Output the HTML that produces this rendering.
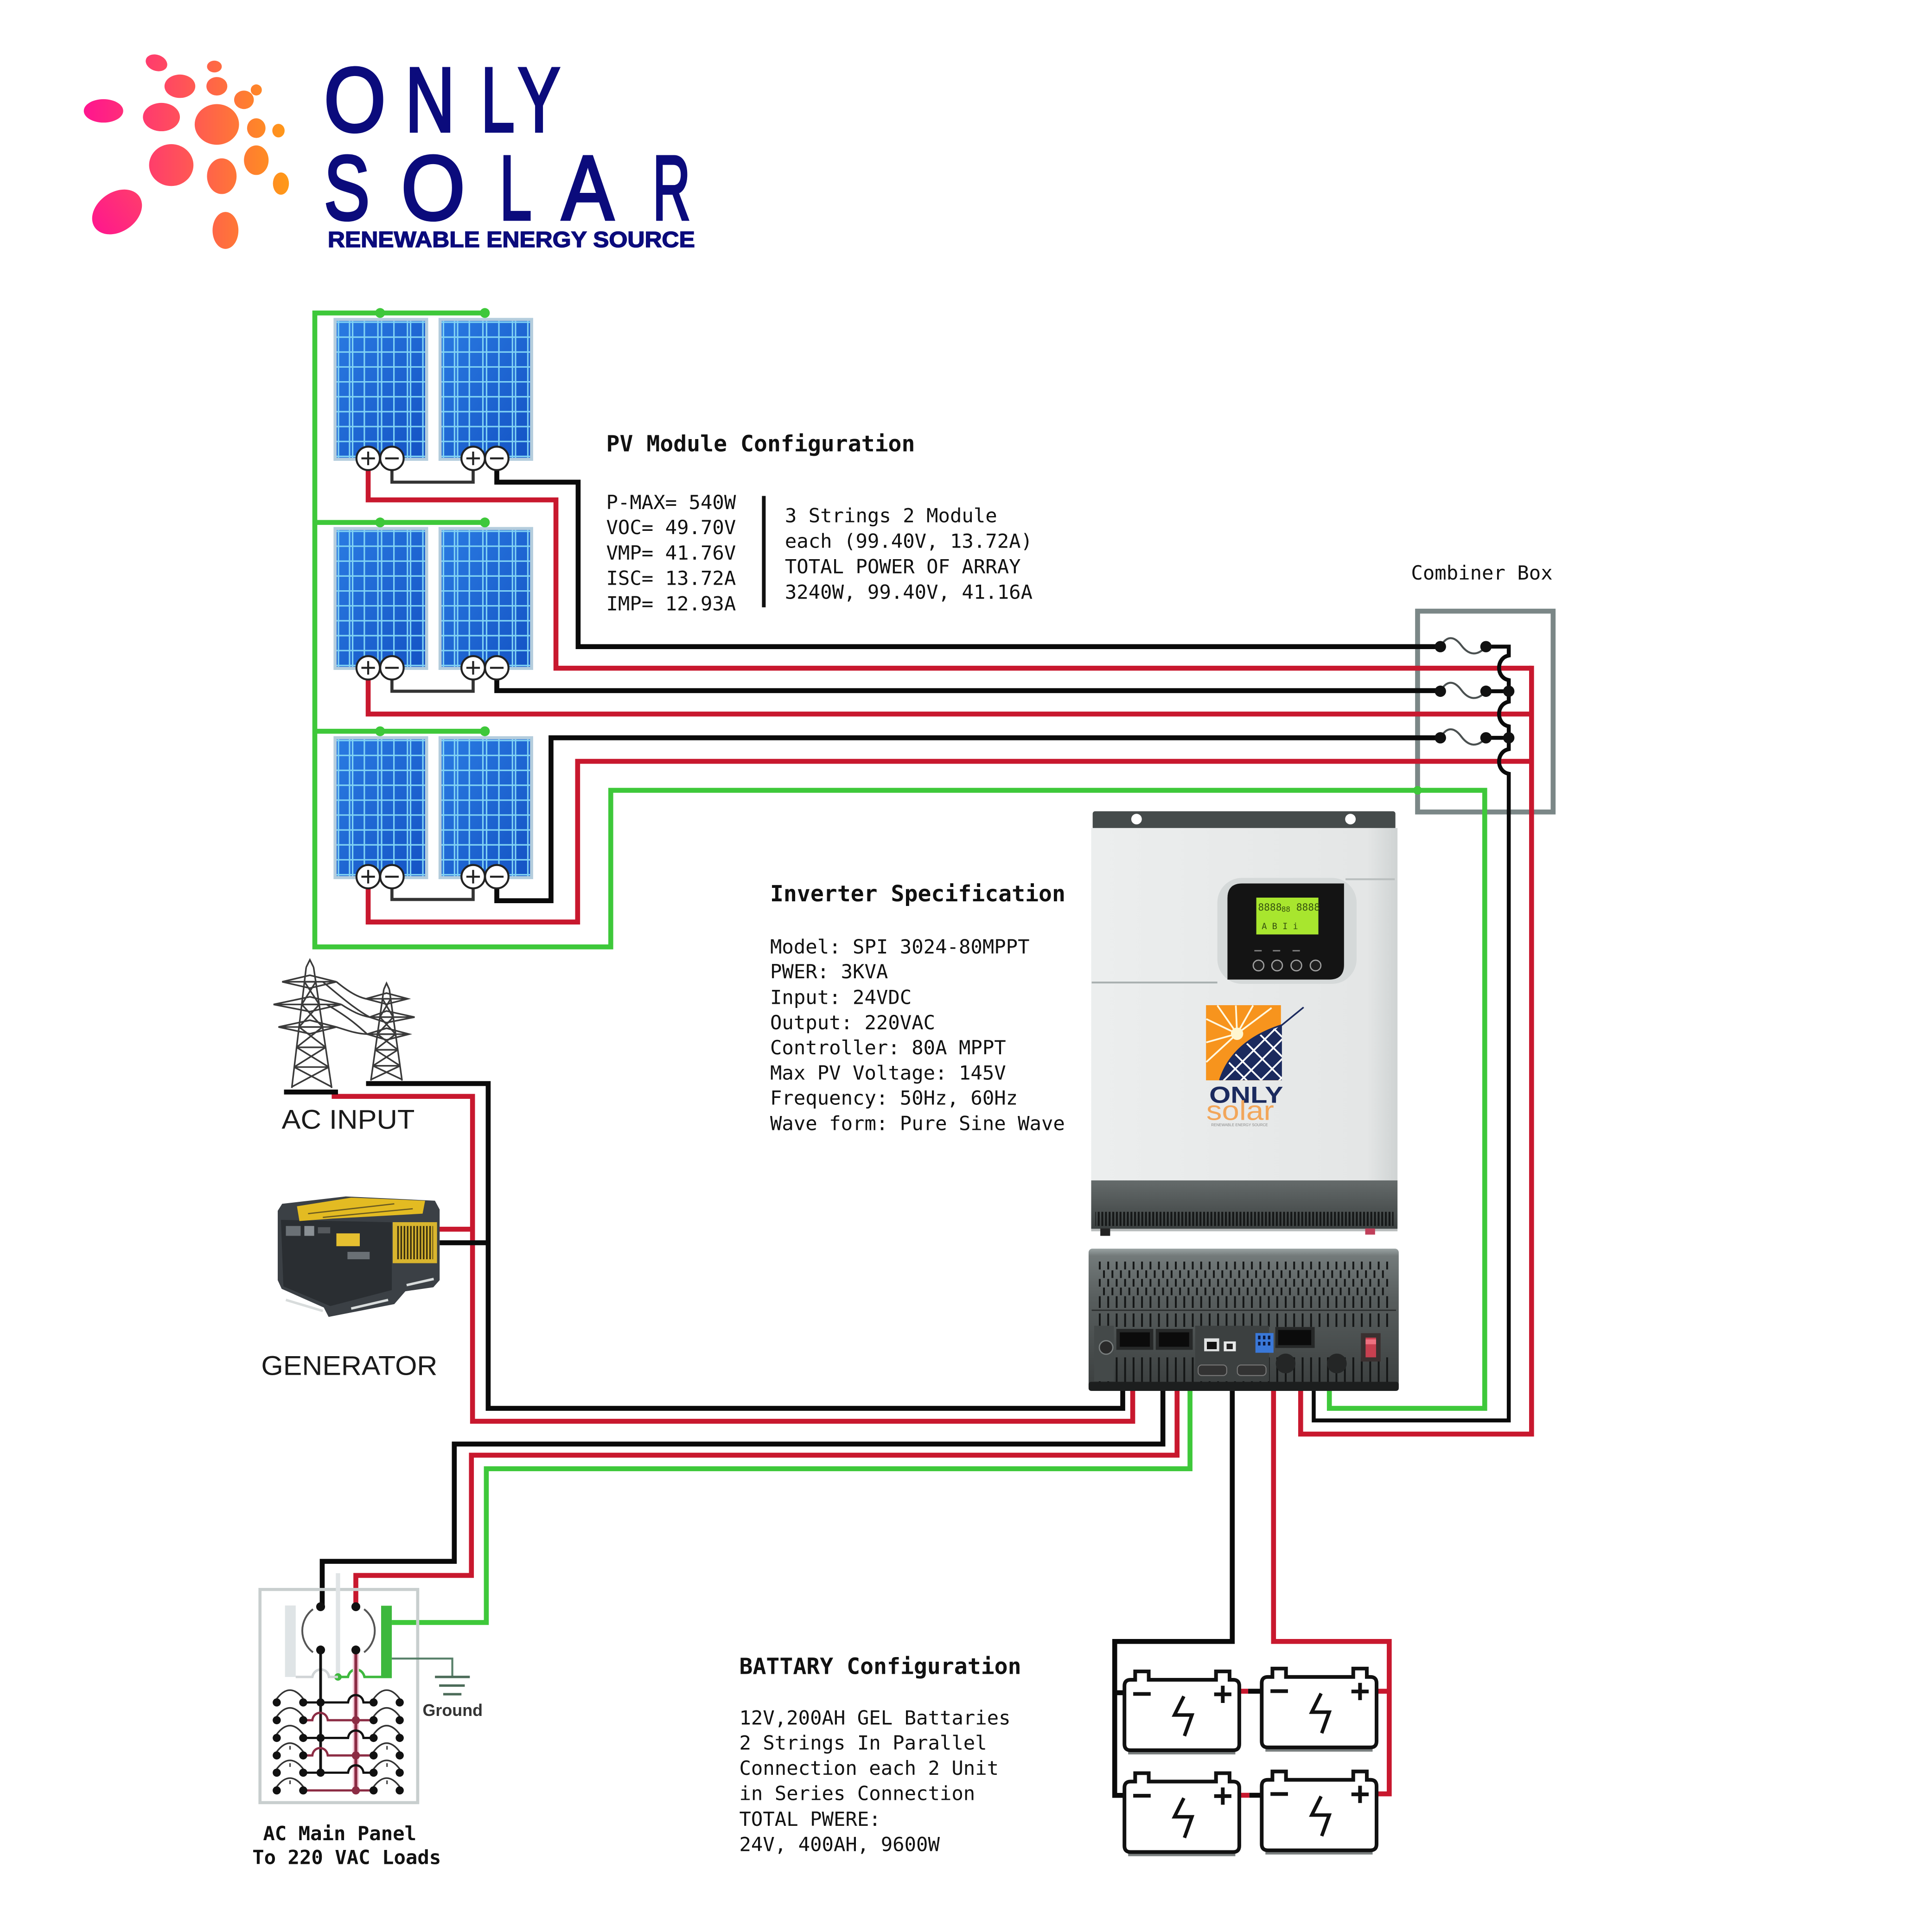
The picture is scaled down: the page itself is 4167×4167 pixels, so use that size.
<!DOCTYPE html>
<html><head><meta charset="utf-8"><style>
html,body{margin:0;padding:0;background:#fff;}
svg{display:block;}
</style></head><body>
<svg xmlns="http://www.w3.org/2000/svg" xmlns:xlink="http://www.w3.org/1999/xlink" width="4167" height="4167" viewBox="0 0 1568 1568">
<defs>
<linearGradient id="dotg" gradientUnits="userSpaceOnUse" x1="70" y1="0" x2="235" y2="0">
<stop offset="0" stop-color="#ff168e"/><stop offset="0.45" stop-color="#ff4f5c"/><stop offset="1" stop-color="#ff9a16"/>
</linearGradient>
<linearGradient id="pvb" x1="0" y1="0" x2="1" y2="1"><stop offset="0" stop-color="#2a7be2"/><stop offset="1" stop-color="#1453c4"/></linearGradient>
<linearGradient id="bodyg" x1="0" y1="0" x2="1" y2="0"><stop offset="0" stop-color="#eceeee"/><stop offset="0.9" stop-color="#e4e6e6"/><stop offset="1" stop-color="#cfd3d3"/></linearGradient>
<linearGradient id="bandg" x1="0" y1="0" x2="0" y2="1"><stop offset="0" stop-color="#656b6b"/><stop offset="1" stop-color="#3c4141"/></linearGradient>
<linearGradient id="lowg" x1="0" y1="0" x2="0" y2="1"><stop offset="0" stop-color="#9aa3a3"/><stop offset="0.05" stop-color="#737a7a"/><stop offset="0.35" stop-color="#585e5e"/><stop offset="1" stop-color="#3a3e3e"/></linearGradient>
<pattern id="v1" patternUnits="userSpaceOnUse" width="2.95" height="20"><rect width="1.6" height="20" fill="#151717"/></pattern>
<pattern id="v2" patternUnits="userSpaceOnUse" width="6.86" height="200"><rect width="1.5" height="200" fill="#141616"/></pattern>
<pattern id="v3" patternUnits="userSpaceOnUse" width="6.86" height="200" patternTransform="translate(3.43,0)"><rect width="1.5" height="200" fill="#141616"/></pattern>
<pattern id="gr" patternUnits="userSpaceOnUse" width="2.6" height="40"><rect width="1.3" height="40" fill="#3a3010"/></pattern>
<clipPath id="navyclip"><path d="M990 876.7 Q1000 845 1040.4 831.9 V876.7 Z"/></clipPath>
<g id="pv">
<rect width="76.8" height="116" fill="#b4cddd"/>
<rect x="2.5" y="2.5" width="71.8" height="111" fill="url(#pvb)"/>
<g stroke="#80d2f4" stroke-width="1.2" fill="none">
<path d="M4 2.5V113.5M13 2.5V113.5M15.5 2.5V113.5M25 2.5V113.5M36 2.5V113.5M39 2.5V113.5M49 2.5V113.5M60 2.5V113.5M62.5 2.5V113.5M72.5 2.5V113.5"/>
<path d="M2.5 3.5H74.3M2.5 15.6H74.3M2.5 27.7H74.3M2.5 39.8H74.3M2.5 51.9H74.3M2.5 64H74.3M2.5 76.1H74.3M2.5 88.2H74.3M2.5 100.3H74.3M2.5 112.4H74.3"/>
</g>
</g>
<g id="tp"><circle r="9.5" fill="#fff" stroke="#222" stroke-width="1.6"/><path d="M-5.5 0H5.5M0 -5.5V5.5" stroke="#222" stroke-width="1.6"/></g>
<g id="tm"><circle r="9.5" fill="#fff" stroke="#222" stroke-width="1.6"/><path d="M-5.5 0H5.5" stroke="#222" stroke-width="1.6"/></g>
<g id="bat">
<path d="M3 59.5H90" stroke="#7a7f7f" stroke-width="2.2"/>
<path d="M0 5 Q0 0 5 0 H8.7 V-6.8 H19.7 V0 H74.3 V-6.8 H85.3 V0 H88.2 Q93.2 0 93.2 5 V52.2 Q93.2 57.2 88.2 57.2 H5 Q0 57.2 0 52.2 Z" fill="#fff" stroke="#111" stroke-width="3"/>
<path d="M7.1 11.5H21.3M72.8 11.8H86.8M79.8 4.8V18.8" stroke="#111" stroke-width="3"/>
<path d="M48.2 13.4 L40.6 28.6 H54.8 L48.7 45.6" fill="none" stroke="#111" stroke-width="2.8"/>
</g>
</defs>

<rect width="1568" height="1568" fill="#fff"/>

<!-- LOGO -->
<g fill="url(#dotg)">
<ellipse cx="127" cy="51" rx="9" ry="6.5" transform="rotate(20 127 51)"/>
<ellipse cx="174" cy="54" rx="6" ry="4.8"/>
<ellipse cx="146" cy="70" rx="12.5" ry="9.5"/>
<ellipse cx="176" cy="70" rx="8.5" ry="7.5"/>
<ellipse cx="208" cy="73" rx="4.5" ry="4.5"/>
<ellipse cx="198" cy="81" rx="8" ry="7.5"/>
<ellipse cx="84" cy="90" rx="16" ry="9.5"/>
<ellipse cx="131" cy="95" rx="15" ry="11.5"/>
<ellipse cx="176" cy="101" rx="18" ry="16.5"/>
<ellipse cx="208" cy="104" rx="7.5" ry="8"/>
<ellipse cx="226" cy="106" rx="5" ry="5.5"/>
<ellipse cx="139" cy="134" rx="18" ry="17"/>
<ellipse cx="208" cy="130" rx="10" ry="12"/>
<ellipse cx="180" cy="143" rx="12" ry="14.5"/>
<ellipse cx="228" cy="149" rx="6.5" ry="9"/>
<ellipse cx="95" cy="172" rx="22" ry="16" transform="rotate(-35 95 172)"/>
<ellipse cx="183" cy="187" rx="10.5" ry="15"/>
</g>
<g font-family="'Liberation Sans',sans-serif" font-size="74" fill="#0b0b7c" stroke="#0b0b7c" stroke-width="2.4" text-anchor="middle">
<text transform="translate(288,106.5) scale(0.87,1)">O</text>
<text transform="translate(349,106.5) scale(0.75,1)">N</text>
<text transform="translate(404,106.5) scale(0.66,1)">L</text>
<text transform="translate(437.5,106.5) scale(0.69,1)">Y</text>
<text transform="translate(281.5,178) scale(0.75,1)">S</text>
<text transform="translate(351.5,178) scale(0.9,1)">O</text>
<text transform="translate(418.5,178) scale(0.63,1)">L</text>
<text transform="translate(477,178) scale(0.85,1)">A</text>
<text transform="translate(545,178) scale(0.57,1)">R</text>
</g>
<text x="266" y="200.5" font-family="'Liberation Sans',sans-serif" font-weight="bold" font-size="18" fill="#0b0b7c" stroke="#0b0b7c" stroke-width="0.6" textLength="298" lengthAdjust="spacingAndGlyphs">RENEWABLE ENERGY SOURCE</text>

<!-- PV PANELS -->
<use href="#pv" xlink:href="#pv" x="270.7" y="258"/>
<use href="#pv" xlink:href="#pv" x="355.9" y="258"/>
<use href="#pv" xlink:href="#pv" x="270.7" y="427.7"/>
<use href="#pv" xlink:href="#pv" x="355.9" y="427.7"/>
<use href="#pv" xlink:href="#pv" x="270.7" y="597.5"/>
<use href="#pv" xlink:href="#pv" x="355.9" y="597.5"/>

<!-- Combiner box -->
<rect x="1150.5" y="496" width="110" height="163" fill="none" stroke="#7b8787" stroke-width="4"/>

<!-- PV links -->
<g fill="none" stroke="#333" stroke-width="2.5">
<path d="M318.1 372 V391.3 H384 V372"/>
<path d="M318.1 542 V561 H384 V542"/>
<path d="M318.1 711.5 V730 H384 V711.5"/>
</g>

<!-- GREEN wires -->
<g fill="none" stroke="#3ec83a" stroke-width="4">
<path d="M396 254 H255.5 V768.5 H495.7 V641.4 H1205 V1143 H1078.9 V1093"/>
<path d="M255.5 424 H396"/>
<path d="M255.5 593.5 H396"/>
<path d="M965.8 1093 V1192 H394.7 V1316.8 H318"/>
</g>
<g fill="#3ec83a">
<circle cx="308.5" cy="254" r="4"/><circle cx="393.5" cy="254" r="4"/>
<circle cx="308.5" cy="424" r="4"/><circle cx="393.5" cy="424" r="4"/>
<circle cx="308.5" cy="593.5" r="4"/><circle cx="393.5" cy="593.5" r="4"/>
<circle cx="1150.5" cy="641.4" r="3.5"/>
</g>

<!-- RED wires -->
<g fill="none" stroke="#c8182e" stroke-width="4">
<path d="M298.8 372 V405.7 H451.2 V542.3 H1243"/>
<path d="M298.8 542 V579.5 H1243"/>
<path d="M298.8 711.5 V748.3 H468.8 V617.9 H1243"/>
<path d="M1243 540.3 V1163.9 H1055.6 V1093"/>
<path d="M269.2 889.8 H383.5 V1153.5 H919.3 V1093"/>
<path d="M355.5 997.6 H383.5"/>
<path d="M955.3 1093 V1181 H382.6 V1278.6 H288.8 V1304"/>
<path d="M1033.6 1097 V1332.2 H1127.5 V1455.9 H1116.4"/>
<path d="M1127.5 1372.6 H1116.4"/>
<path d="M1003 1372.6 H1013"/>
<path d="M1004 1457 H1014"/>
</g>

<!-- BLACK wires -->
<g fill="none" stroke="#0a0a0a" stroke-width="4">
<path d="M403.2 372 V391.3 H469.2 V524.8 H1169"/>
<path d="M403.2 542 V560.5 H1169"/>
<path d="M403.2 711.5 V731 H447.2 V598.8 H1169"/>
<path d="M297.1 879.4 H396.2 V1143 H911.2 V1093"/>
<path d="M356.8 1008.6 H396.2"/>
<path d="M230.5 886.3 H274.3"/>
<path d="M943.8 1093 V1172 H368.7 V1267.2 H261.5 V1304"/>
<path d="M1000.1 1097 V1332.2 H904.7 V1457.1 H912.6"/>
<path d="M904.7 1373.8 H912.6"/>
<path d="M1013 1372.6 H1024"/>
<path d="M1014 1457 H1024"/>
</g>
<g fill="none" stroke="#0a0a0a" stroke-width="3.2">
<path d="M1206 524.8 H1224.5 V532 C1214 534 1214 550 1224.5 552 V569.5 C1214 571.5 1214 587.5 1224.5 589.5 V608 C1214 610 1214 626 1224.5 628 V1152.8 H1066.2 V1093"/>
<path d="M1206 561 H1224.5 M1206 598.8 H1224.5"/>
</g>
<g fill="none" stroke="#4a5050" stroke-width="1.6">
<path d="M1169 524.8 C1174 515.8 1180 515.8 1186 523.8 S1199 532.8 1206 524.8"/>
<path d="M1169 561 C1174 552 1180 552 1186 560 S1199 569 1206 561"/>
<path d="M1169 598.8 C1174 589.8 1180 589.8 1186 597.8 S1199 606.8 1206 598.8"/>
</g>
<g fill="#111">
<circle cx="1169" cy="524.8" r="4.6"/><circle cx="1206" cy="524.8" r="4.6"/>
<circle cx="1169" cy="561" r="4.6"/><circle cx="1206" cy="561" r="4.6"/>
<circle cx="1169" cy="598.8" r="4.6"/><circle cx="1206" cy="598.8" r="4.6"/>
<circle cx="1224.5" cy="561" r="4.6"/><circle cx="1224.5" cy="598.8" r="4.6"/>
</g>

<!-- Terminals -->
<use href="#tm" xlink:href="#tm" x="318.1" y="372"/><use href="#tp" xlink:href="#tp" x="298.8" y="372"/>
<use href="#tm" xlink:href="#tm" x="403.2" y="372"/><use href="#tp" xlink:href="#tp" x="384" y="372"/>
<use href="#tm" xlink:href="#tm" x="318.1" y="542"/><use href="#tp" xlink:href="#tp" x="298.8" y="542"/>
<use href="#tm" xlink:href="#tm" x="403.2" y="542"/><use href="#tp" xlink:href="#tp" x="384" y="542"/>
<use href="#tm" xlink:href="#tm" x="318.1" y="711.5"/><use href="#tp" xlink:href="#tp" x="298.8" y="711.5"/>
<use href="#tm" xlink:href="#tm" x="403.2" y="711.5"/><use href="#tp" xlink:href="#tp" x="384" y="711.5"/>

<!-- PV text -->
<g font-family="'DejaVu Sans Mono','Liberation Mono',monospace" fill="#111">
<text x="492" y="366.4" font-size="18.1" font-weight="bold">PV Module Configuration</text>
<g font-size="15.9">
<text x="492" y="413.1">P-MAX= 540W</text>
<text x="492" y="433.5">VOC= 49.70V</text>
<text x="492" y="454.2">VMP= 41.76V</text>
<text x="492" y="474.7">ISC= 13.72A</text>
<text x="492" y="495.4">IMP= 12.93A</text>
<text x="637" y="423.8">3 Strings 2 Module</text>
<text x="637" y="444.5">each (99.40V, 13.72A)</text>
<text x="637" y="465.3">TOTAL POWER OF ARRAY</text>
<text x="637" y="486">3240W, 99.40V, 41.16A</text>
<text x="1145.2" y="470.3">Combiner Box</text>
</g>
</g>
<rect x="618.4" y="402.5" width="3" height="90.4" fill="#111"/>

<!-- INVERTER TOP UNIT -->
<rect x="886.8" y="658.4" width="245.7" height="15" rx="2" fill="#454b4b"/>
<circle cx="922.4" cy="664.8" r="4.3" fill="#fff"/>
<circle cx="1096" cy="664.8" r="4.3" fill="#fff"/>
<rect x="885.6" y="672" width="248.6" height="286" fill="url(#bodyg)"/>
<path d="M886 797.4 H988" stroke="#a9b0b0" stroke-width="1.5"/>
<path d="M1092 713.6 H1132" stroke="#b9bebe" stroke-width="1.5"/>
<rect x="988" y="712.5" width="113" height="86" rx="20" fill="#d5d9d9"/>
<path d="M1008 717 H1090.8 V783 Q1090.8 795 1078.8 795 H996.2 V729 Q996.2 717 1008 717 Z" fill="#141414"/>
<rect x="1019.6" y="728.5" width="50.4" height="29.9" fill="#a8e62e"/>
<g font-family="'DejaVu Sans Mono',monospace" fill="#36520e">
<text x="1021" y="739" font-size="8">8888</text>
<text x="1040" y="740" font-size="6">88</text>
<text x="1052" y="739" font-size="8">8888</text>
<text x="1024" y="754" font-size="7">A  B  I  i</text>
</g>
<g fill="#777"><rect x="1018" y="771" width="6" height="1.2"/><rect x="1033" y="771" width="6" height="1.2"/><rect x="1049" y="771" width="6" height="1.2"/></g>
<g fill="#1e1e1e" stroke="#a0a0a0" stroke-width="1">
<circle cx="1021.4" cy="783.6" r="4.3"/><circle cx="1036.5" cy="783.6" r="4.3"/><circle cx="1052.1" cy="783.6" r="4.3"/><circle cx="1067.7" cy="783.6" r="4.3"/>
</g>
<!-- inverter logo -->
<rect x="978.8" y="815.8" width="60.8" height="61" fill="#f7941d"/>
<g stroke="#fff8e0" stroke-width="1.4">
<path d="M1004 839 L979 827 M1004 839 L979 846 M1004 839 L979 862 M1004 839 L988 816 M1004 839 L1003 816 M1004 839 L1017 816 M1004 839 L1032 818"/>
</g>
<circle cx="1004" cy="839" r="5" fill="#fff6d0"/>
<path d="M990 876.7 Q1000 845 1040.4 831.9 V876.7 Z" fill="#1b2a5e"/>
<g clip-path="url(#navyclip)" stroke="#ffffff" stroke-width="1.4">
<path d="M985 850 L1030 895 M985 838 L1042 895 M995 830 L1050 885 M1005 822 L1050 867 M1015 816 L1050 851 M1025 810 L1050 835"/>
<path d="M985 885 L1045 825 M992 892 L1050 834 M1000 900 L1050 850 M1010 905 L1050 865 M980 875 L1035 820"/>
</g>
<path d="M990 876.7 Q1000 845 1040.4 831.9 L1058 817.5" fill="none" stroke="#1b2a5e" stroke-width="1.3"/>
<text x="981.4" y="895" font-family="'Liberation Sans',sans-serif" font-weight="bold" font-size="19" fill="#1b2a5e" textLength="60" lengthAdjust="spacingAndGlyphs">ONLY</text>
<text x="979" y="909" font-family="'Liberation Sans',sans-serif" font-size="22" fill="#f2a65a" textLength="55" lengthAdjust="spacingAndGlyphs">solar</text>
<text x="983" y="914" font-family="'Liberation Sans',sans-serif" font-size="3" fill="#888" textLength="46" lengthAdjust="spacingAndGlyphs">RENEWABLE ENERGY SOURCE</text>
<rect x="885.6" y="958" width="248.6" height="39.3" fill="url(#bandg)"/>
<rect x="889" y="983.5" width="242" height="11.5" fill="url(#v1)"/>
<rect x="885.6" y="997.3" width="248.6" height="2" fill="#b8bcbc"/>
<rect x="893" y="997" width="8" height="6" fill="#222"/>
<rect x="1108" y="997" width="8" height="5" fill="#c0405a"/>

<!-- INVERTER BOTTOM UNIT -->
<rect x="883.5" y="1013.4" width="251.7" height="115.4" rx="3" fill="url(#lowg)"/>
<rect x="891.6" y="1023.9" width="235" height="6.4" fill="url(#v2)"/>
<rect x="891.6" y="1031" width="235" height="6.2" fill="url(#v3)"/>
<rect x="891.6" y="1038" width="235" height="6.2" fill="url(#v2)"/>
<rect x="891.6" y="1045" width="235" height="6.2" fill="url(#v3)"/>
<rect x="891.6" y="1052" width="235" height="9.5" fill="url(#v2)"/>
<path d="M886 1063.4 H1133" stroke="#2a2d2d" stroke-width="1"/>
<rect x="891.6" y="1066" width="235" height="10.9" fill="url(#v2)"/>
<rect x="891.6" y="1101.6" width="235" height="21" fill="url(#v2)"/>
<rect x="883.5" y="1121.5" width="251.7" height="7.3" rx="2" fill="#1c1e1e"/>
<rect x="888" y="1076" width="16" height="45" fill="#444949"/>
<circle cx="897.7" cy="1093.6" r="5.5" fill="#2a2a2a" stroke="#7a7f7f" stroke-width="1"/>
<rect x="906" y="1078.5" width="30" height="17" fill="#262828"/>
<rect x="908.8" y="1081.3" width="24.4" height="11.7" fill="#0b0b0b"/>
<rect x="938" y="1078.5" width="30" height="17" fill="#262828"/>
<rect x="940.6" y="1081.3" width="24.5" height="11.7" fill="#0b0b0b"/>
<rect x="970" y="1076" width="60" height="45" fill="#3c4040"/>
<rect x="977.3" y="1086.2" width="12.2" height="10.5" fill="#e0e2e2"/>
<rect x="979.5" y="1089" width="8" height="6" fill="#111"/>
<rect x="993.2" y="1088.7" width="9.8" height="8" fill="#e8eaea"/>
<rect x="995.5" y="1090.5" width="5" height="4.5" fill="#222"/>
<rect x="1018.9" y="1081.9" width="14.7" height="16" fill="#3a78d8"/>
<g fill="#0c1a40"><rect x="1021" y="1084" width="2" height="3"/><rect x="1025" y="1084" width="2" height="3"/><rect x="1029" y="1084" width="2" height="3"/><rect x="1021" y="1089" width="2" height="3"/><rect x="1025" y="1089" width="2" height="3"/><rect x="1029" y="1089" width="2" height="3"/></g>
<rect x="1035" y="1077" width="32" height="17" fill="#262828"/>
<rect x="1037.3" y="1079.4" width="26.9" height="12.3" fill="#0b0b0b"/>
<circle cx="1043.4" cy="1106.6" r="8" fill="#242626"/>
<circle cx="1085" cy="1106.6" r="8" fill="#242626"/>
<rect x="972.4" y="1107.8" width="23.2" height="8.6" rx="3" fill="#333" stroke="#777" stroke-width="0.8"/>
<rect x="1004.2" y="1107.8" width="23.3" height="8.6" rx="3" fill="#333" stroke="#777" stroke-width="0.8"/>
<rect x="1104.5" y="1082" width="16" height="23" fill="#3a3030"/>
<rect x="1108.3" y="1085.6" width="8.5" height="16" fill="#c84050"/>
<rect x="1108.3" y="1087" width="8.5" height="4" fill="#f07080"/>

<!-- INVERTER TEXT -->
<g font-family="'DejaVu Sans Mono','Liberation Mono',monospace" fill="#111">
<text x="625" y="731.5" font-size="18.1" font-weight="bold">Inverter Specification</text>
<g font-size="15.9">
<text x="625" y="773.9">Model: SPI 3024-80MPPT</text>
<text x="625" y="794">PWER: 3KVA</text>
<text x="625" y="814.8">Input: 24VDC</text>
<text x="625" y="835.3">Output: 220VAC</text>
<text x="625" y="855.7">Controller: 80A MPPT</text>
<text x="625" y="876.1">Max PV Voltage: 145V</text>
<text x="625" y="896.6">Frequency: 50Hz, 60Hz</text>
<text x="625" y="917.2">Wave form: Pure Sine Wave</text>
</g>
</g>

<!-- TOWERS -->
<g stroke="#3a3a3a" stroke-width="1.3" fill="none">
<path d="M248.5 785 L236.8 883 M254.5 785 L269.2 883 M248.5 785 L251.5 779 L254.5 785"/>
<path d="M247.1 796.8 H256.3 M244.9 815.2 H259.1 M242.7 833.5 H261.8 M240.7 850 H264.3 M238.7 866 H266.8"/>
<path d="M247.1 796.8 L259.1 815.2 M256.3 796.8 L244.9 815.2 M244.9 815.2 L261.8 833.5 M259.1 815.2 L242.7 833.5 M242.7 833.5 L264.3 850 M261.8 833.5 L240.7 850 M240.7 850 L266.8 866 M264.3 850 L238.7 866 M238.7 866 L269 882 M266.8 866 L237 882"/>
<path d="M229 796.8 L251.5 791.5 L273 796.8 L251.5 802 Z M229 796.8 H273"/>
<path d="M222 815.2 L251.5 809 L277 815.2 L251.5 821 Z M222 815.2 H277"/>
<path d="M226 833.5 L251.5 828 L273 833.5 L251.5 839 Z M226 833.5 H273"/>
<path d="M311.5 803 L301 877 M316 803 L326.3 877 M311.5 803 L313.7 798 L316 803"/>
<path d="M310.4 810.6 H317.1 M308.3 825.5 H319.1 M306.3 839.3 H321.1 M304.5 852 H322.9 M302.7 865 H324.7"/>
<path d="M310.4 810.6 L319.1 825.5 M317.1 810.6 L308.3 825.5 M308.3 825.5 L321.1 839.3 M319.1 825.5 L306.3 839.3 M306.3 839.3 L322.9 852 M321.1 839.3 L304.5 852 M304.5 852 L324.7 865 M322.9 852 L302.7 865 M302.7 865 L326 876 M324.7 865 L301.5 876"/>
<path d="M297 810.6 L313.7 806 L331 810.6 L313.7 815 Z M297 810.6 H331"/>
<path d="M300 825.5 L313.7 820.5 L336.5 825.5 L313.7 830 Z M300 825.5 H336.5"/>
<path d="M298 839.3 L313.7 834.5 L332 839.3 L313.7 844 Z M298 839.3 H332"/>
<path d="M273 796.8 C283 805 290 809 297 810.6 M277 815.2 C286 821 292 824 300 825.5 M273 833.5 C284 837 290 839 298 839.3 M262 796.8 C280 812 290 820 300 825.5 M265 815.2 C282 825 290 832 298 839.3"/>
</g>
<path d="M297.1 879.4 H330" stroke="#0a0a0a" stroke-width="3"/>
<text x="228.6" y="916.1" font-family="'Liberation Sans',sans-serif" font-size="22" fill="#1a1a1a" textLength="108" lengthAdjust="spacingAndGlyphs">AC INPUT</text>

<!-- GENERATOR -->
<polygon points="225.4,982.7 229,977 280.6,971 353,974.5 356.8,981.6 356.8,1039 351.7,1044.7 329,1048 320,1058.4 266.7,1068.8 262.8,1061.2 228.6,1046 225.4,1039" fill="#3b4045"/>
<polygon points="228,990 318,992 318,1047 268,1060 230,1044" fill="#2a2e32"/>
<polygon points="241,979 285,972 345,974.5 343,985 270,989 243,991" fill="#e3bb22"/>
<path d="M250 985 L320 977 M262 988 L335 981" stroke="#6a5a20" stroke-width="1"/>
<rect x="318.7" y="991.9" width="36" height="33.3" fill="#d9b52e"/>
<rect x="322" y="995" width="29.5" height="27" fill="url(#gr)"/>
<rect x="273" y="1001" width="19" height="10.4" fill="#e6c030"/>
<rect x="232" y="995" width="12" height="8" fill="#6a7075"/>
<rect x="247" y="995" width="8" height="8" fill="#8a9095"/>
<rect x="258" y="996" width="10" height="5" fill="#55595d"/>
<rect x="282" y="1016" width="18" height="6" fill="#6a7075"/>
<path d="M232 1055 L262 1064 M285 1062 L315 1055 M330 1043 L352 1038" stroke="#d8dcdc" stroke-width="2"/>
<text x="212" y="1115.8" font-family="'Liberation Sans',sans-serif" font-size="22" fill="#1a1a1a" textLength="143" lengthAdjust="spacingAndGlyphs">GENERATOR</text>

<!-- AC MAIN PANEL -->
<rect x="211" y="1290" width="128" height="173" fill="none" stroke="#c8cece" stroke-width="2.5"/>
<rect x="231.3" y="1303" width="8.7" height="58" fill="#dfe4e6"/>
<path d="M274.3 1276.8 V1361" stroke="#e0e4e6" stroke-width="3.5"/>
<path d="M254 1306 A22 22 0 0 0 254 1341 M295.5 1306 A22 22 0 0 1 295.5 1341" fill="none" stroke="#555" stroke-width="1.5"/>
<rect x="309.3" y="1303.2" width="8.7" height="58.8" fill="#3db83d"/>
<path d="M318 1346.1 H367.1 V1361" fill="none" stroke="#58806a" stroke-width="1.6"/>
<path d="M353 1361 H381.3 M356.4 1368 H377.2 M359.7 1375 H374.5" stroke="#4b6b58" stroke-width="2"/>
<text x="343" y="1392.6" font-family="'Liberation Sans',sans-serif" font-weight="bold" font-size="13.5" fill="#333">Ground</text>
<path d="M309.3 1361 H295.8 C294 1353 284 1353 282.4 1361 H274.3" fill="none" stroke="#3db83d" stroke-width="2"/>
<circle cx="274.3" cy="1361" r="3" fill="#3db83d"/>
<path d="M274.3 1361 H267 C266 1353 255 1353 253.5 1361 H240" fill="none" stroke="#d0d4d6" stroke-width="2"/>
<path d="M288.8 1339.1 V1453.1" stroke="#f3c8d6" stroke-width="5"/>
<path d="M288.8 1339.1 V1453.1" stroke="#8c2c44" stroke-width="2.4"/>
<path d="M260.2 1339.1 V1438.7" stroke="#111" stroke-width="2.2"/>
<g fill="none" stroke="#333" stroke-width="1.3">
<path d="M224.6 1378.7 Q235.3 1364.7 246.1 1378.7 M303.2 1378.7 Q313.8 1364.7 324.4 1378.7"/>
<path d="M224.6 1393.1 Q235.3 1379.1 246.1 1393.1 M303.2 1393.1 Q313.8 1379.1 324.4 1393.1"/>
<path d="M224.6 1407.5 Q235.3 1393.5 246.1 1407.5 M303.2 1407.5 Q313.8 1393.5 324.4 1407.5"/>
<path d="M224.6 1421.7 Q235.3 1407.7 246.1 1421.7 M303.2 1421.7 Q313.8 1407.7 324.4 1421.7"/>
<path d="M224.6 1435.7 Q235.3 1421.7 246.1 1435.7 M303.2 1435.7 Q313.8 1421.7 324.4 1435.7"/>
<path d="M224.6 1450.1 Q235.3 1436.1 246.1 1450.1 M303.2 1450.1 Q313.8 1436.1 324.4 1450.1"/>
</g>
<g fill="none" stroke="#111" stroke-width="1.8">
<path d="M246.1 1381.7 H282.5 C283.5 1373.7 294 1373.7 295 1381.7 H303.2"/>
<path d="M246.1 1410.5 H282.5 C283.5 1402.5 294 1402.5 295 1410.5 H303.2"/>
<path d="M246.1 1438.7 H282.5 C283.5 1430.7 294 1430.7 295 1438.7 H303.2"/>
</g>
<g fill="none" stroke="#8c2c44" stroke-width="1.8">
<path d="M246.1 1396.1 H253.5 C254.5 1388.1 265 1388.1 266 1396.1 H303.2"/>
<path d="M246.1 1424.7 H253.5 C254.5 1416.7 265 1416.7 266 1424.7 H303.2"/>
<path d="M246.1 1453.1 H303.2"/>
</g>
<g fill="#111">
<circle cx="260.2" cy="1304" r="3.6"/><circle cx="288.8" cy="1304" r="3.6"/>
<circle cx="260.2" cy="1339.1" r="3.6"/><circle cx="288.8" cy="1339.1" r="3.6"/>
<circle cx="260.2" cy="1381.7" r="3.3"/><circle cx="260.2" cy="1410.5" r="3.3"/><circle cx="260.2" cy="1438.7" r="3.3"/>
</g>
<g fill="#8c2c44">
<circle cx="288.8" cy="1396.1" r="3.3"/><circle cx="288.8" cy="1424.7" r="3.3"/><circle cx="288.8" cy="1453.1" r="3.3"/>
</g>
<g fill="#111">
<circle cx="224.6" cy="1381.7" r="3.3"/><circle cx="246.1" cy="1381.7" r="3.3"/><circle cx="303.2" cy="1381.7" r="3.3"/><circle cx="324.4" cy="1381.7" r="3.3"/>
<circle cx="224.6" cy="1396.1" r="3.3"/><circle cx="246.1" cy="1396.1" r="3.3"/><circle cx="303.2" cy="1396.1" r="3.3"/><circle cx="324.4" cy="1396.1" r="3.3"/>
<circle cx="224.6" cy="1410.5" r="3.3"/><circle cx="246.1" cy="1410.5" r="3.3"/><circle cx="303.2" cy="1410.5" r="3.3"/><circle cx="324.4" cy="1410.5" r="3.3"/>
<circle cx="224.6" cy="1424.7" r="3.3"/><circle cx="246.1" cy="1424.7" r="3.3"/><circle cx="303.2" cy="1424.7" r="3.3"/><circle cx="324.4" cy="1424.7" r="3.3"/>
<circle cx="224.6" cy="1438.7" r="3.3"/><circle cx="246.1" cy="1438.7" r="3.3"/><circle cx="303.2" cy="1438.7" r="3.3"/><circle cx="324.4" cy="1438.7" r="3.3"/>
<circle cx="224.6" cy="1453.1" r="3.3"/><circle cx="246.1" cy="1453.1" r="3.3"/><circle cx="303.2" cy="1453.1" r="3.3"/><circle cx="324.4" cy="1453.1" r="3.3"/>
</g>
<g fill="#444">
<rect x="234.8" y="1417" width="1.2" height="3"/><rect x="234.8" y="1431" width="1.2" height="3"/><rect x="234.8" y="1445" width="1.2" height="3"/>
<rect x="313.5" y="1417" width="1.2" height="3"/><rect x="313.5" y="1431" width="1.2" height="3"/><rect x="313.5" y="1445" width="1.2" height="3"/>
</g>
<g font-family="'DejaVu Sans Mono','Liberation Mono',monospace" font-weight="bold" font-size="15.9" fill="#111">
<text x="213.5" y="1493.5">AC Main Panel</text>
<text x="204.8" y="1512.8">To 220 VAC Loads</text>
</g>

<!-- BATTERIES -->
<use href="#bat" xlink:href="#bat" x="912.6" y="1363.3"/>
<use href="#bat" xlink:href="#bat" x="1024" y="1361"/>
<use href="#bat" xlink:href="#bat" x="912.6" y="1445.9"/>
<use href="#bat" xlink:href="#bat" x="1024" y="1444.5"/>

<g font-family="'DejaVu Sans Mono','Liberation Mono',monospace" fill="#111">
<text x="600" y="1358.6" font-size="18.1" font-weight="bold">BATTARY Configuration</text>
<g font-size="15.9">
<text x="600" y="1399.6">12V,200AH GEL Battaries</text>
<text x="600" y="1419.9">2 Strings In Parallel</text>
<text x="600" y="1440.5">Connection each 2 Unit</text>
<text x="600" y="1460.9">in Series Connection</text>
<text x="600" y="1481.8">TOTAL PWERE:</text>
<text x="600" y="1502.4">24V, 400AH, 9600W</text>
</g>
</g>
</svg>
</body></html>
